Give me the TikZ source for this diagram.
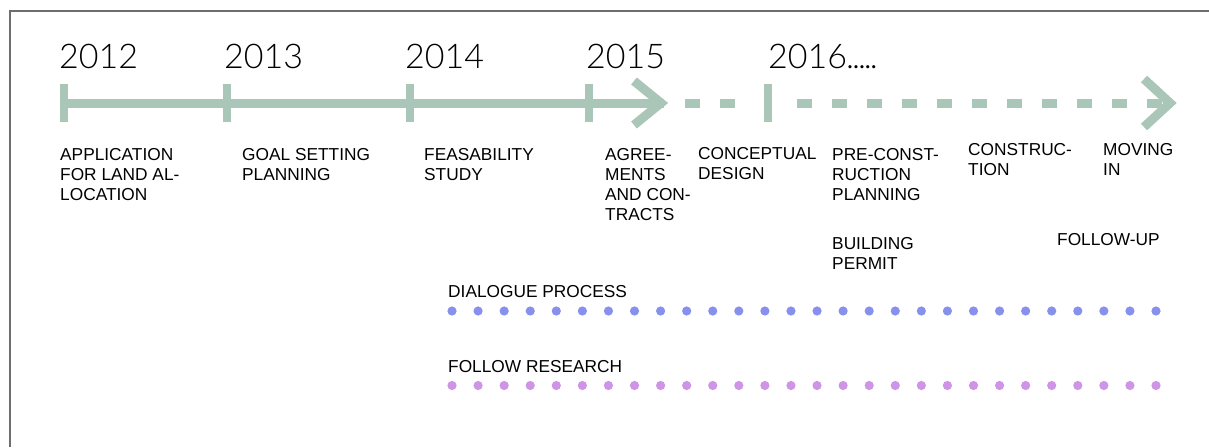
\documentclass[tikz,border=0pt]{standalone}
\usepackage{fontspec}
\setmainfont{Liberation Sans}
\IfFontExistsTF{Lato Light}{\newfontfamily\yearfont{Lato Light}}{\newfontfamily\yearfont{Liberation Sans}}
\definecolor{sage}{RGB}{170,198,184}
\definecolor{dotblue}{RGB}{136,144,238}
\definecolor{dotpurple}{RGB}{206,148,230}
\definecolor{framegray}{RGB}{110,110,110}
\begin{document}
\begin{tikzpicture}[x=1pt,y=-1pt,
  bar/.style={line width=9pt, draw=sage},
  tickmark/.style={line width=8pt, draw=sage},
  chev/.style={line width=9pt, draw=sage, line join=miter},
  lbl/.style={anchor=north west, inner sep=0pt, align=left, font=\fontsize{17.3}{20}\selectfont},
  yr/.style={anchor=base west, inner sep=0pt, font=\yearfont\fontsize{34}{40}\selectfont},
  bluedot/.style={fill=dotblue, draw=none},
  purpledot/.style={fill=dotpurple, draw=none}]
\useasboundingbox (0,0) rectangle (1209,447);
% frame
\draw[framegray, line width=1.3pt] (10,447) -- (10,11) -- (1209,11);
% years
\node[yr] (y12) at (59,68) {2012};
\node[yr] (y13) at (224,68) {2013};
\node[yr] (y14) at (405,68) {2014};
\node[yr] (y15) at (586,68) {2015};
\node[yr] (y16) at (768,68) {2016\kern-1pt.\kern-2pt.\kern-2pt.\kern-2pt.\kern-2pt.};
% timeline
\coordinate (s) at (60,103);
\coordinate (e) at (664,103);
\draw[bar] (s) -- (e);
\foreach \n/\x in {a/64,b/227,c/410,d/589,f/768}{
  \coordinate (t\n top) at (\x,84);
  \coordinate (t\n bot) at (\x,122);
  \draw[tickmark] (t\n top) -- (t\n bot);
}
\coordinate (c1a) at (634,81);
\coordinate (c1b) at (661,103);
\coordinate (c1c) at (634,125);
\draw[chev] (c1a) -- (c1b) -- (c1c);
\foreach \x in {685,720,797,832,867,902,937,972,1007,1042,1077,1112,1147}{
  \draw[bar] (\x,103) -- ++(15,0);
}
\coordinate (c2a) at (1144,79);
\coordinate (c2b) at (1170,103);
\coordinate (c2c) at (1144,127);
\draw[chev] (c2a) -- (c2b) -- (c2c);
% labels
\node[lbl] (l1) at (60,148) {APPLICATION\\FOR LAND AL-\\LOCATION};
\node[lbl] (l2) at (242,148) {GOAL SETTING\\PLANNING};
\node[lbl] (l3) at (424,148) {FEASABILITY\\STUDY};
\node[lbl] (l4) at (605,148) {AGREE-\\MENTS\\AND CON-\\TRACTS};
\node[lbl] (l5) at (698,147) {CONCEPTUAL\\DESIGN};
\node[lbl] (l6) at (832,148) {PRE-CONST-\\RUCTION\\PLANNING};
\node[lbl] (l7) at (968,143) {CONSTRUC-\\TION};
\node[lbl] (l8) at (1103,143) {MOVING\\IN};
\node[lbl] (l9) at (832,237) {BUILDING\\PERMIT};
\node[lbl] (l10) at (1057,233) {FOLLOW-UP};
\node[lbl] (dp) at (448,285) {DIALOGUE PROCESS};
\node[lbl] (fr) at (448,360) {FOLLOW RESEARCH};
% dots
\foreach \i in {0,...,27}{
  \fill[bluedot] ({452+\i*26.074},311) circle (4.6);
  \fill[purpledot] ({452+\i*26.074},385.5) circle (4.6);
}
\end{tikzpicture}
\end{document}
